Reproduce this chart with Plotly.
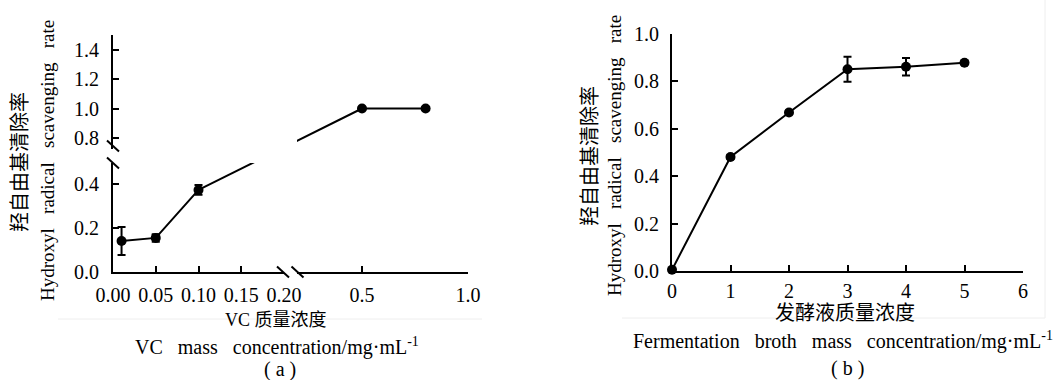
import plotly.graph_objects as go

W, H = 1053, 380

# ---------------- data: chart (a) VC ----------------
vc_x_low = [0.01, 0.05, 0.10]
vc_y_low = [0.141, 0.155, 0.373]
vc_err_low = [0.064, 0.017, 0.022]
vc_x_high = [0.5, 0.8]
vc_y_high = [1.0, 1.0]
vc_err_high = [0.006, 0.006]

vc_xticks_low = [0.0, 0.05, 0.10, 0.15, 0.20]
vc_xtext_low = ["0.00", "0.05", "0.10", "0.15", "0.20"]
vc_xticks_high = [0.5, 1.0]
vc_xtext_high = ["0.5", "1.0"]
vc_yticks_low = [0.0, 0.2, 0.4]
vc_ytext_low = ["0.0", "0.2", "0.4"]
vc_yticks_high = [0.8, 1.0, 1.2, 1.4]
vc_ytext_high = ["0.8", "1.0", "1.2", "1.4"]

# ---------------- data: chart (b) fermentation broth ----------------
fb_x = [0, 1, 2, 3, 4, 5]
fb_y = [0.005, 0.481, 0.669, 0.851, 0.862, 0.879]
fb_err = [0.0, 0.008, 0.008, 0.053, 0.037, 0.008]
fb_xticks = [0, 1, 2, 3, 4, 5, 6]
fb_yticks = [0.0, 0.2, 0.4, 0.6, 0.8, 1.0]
fb_ytext = ["0.0", "0.2", "0.4", "0.6", "0.8", "1.0"]

# ---------------- layout geometry (pixels) ----------------
LX0, LX1 = 113, 284          # lower-left x segment
RX0, RX1 = 297, 468          # right x segment
LY_B, LY_T = 272, 163        # lower y segment (bottom, top)
UY_B, UY_T = 149, 35         # upper y segment
rng_x_low = [0.0, 0.2]
rng_x_high = [1.0 - (RX1 - RX0) * 0.5 / 106.0, 1.0]
rng_y_low = [0.0, (LY_B - LY_T) * 0.2 / 44.0]
rng_y_high = [1.0 - (UY_B - 108.5) * 0.2 / 29.5, 1.0 + (108.5 - UY_T) * 0.2 / 29.5]
BX0, BX1 = 672, 1023
BY_B, BY_T = 271, 34


def dom_x(a, b):
    return [a / W, b / W]


def dom_y(top, bottom):
    return [1 - bottom / H, 1 - top / H]


def to_px(v, rng, p0, p1):
    return p0 + (v - rng[0]) / (rng[1] - rng[0]) * (p1 - p0)


def from_px(p, rng, p0, p1):
    return rng[0] + (p - p0) / (p1 - p0) * (rng[1] - rng[0])


SERIF = "Liberation Serif, Noto Sans CJK SC, serif"


def axis_common():
    return dict(
        showline=True, linecolor="black", linewidth=2,
        ticks="inside", ticklen=6, tickwidth=2, tickcolor="black",
        showgrid=False, zeroline=False, automargin=False, fixedrange=True,
        tickfont=dict(family="Liberation Serif", size=20, color="black"),
    )


fig = go.Figure()

line_style = dict(color="black", width=2)
marker_style = dict(color="black", size=10)
err_style = dict(color="black", thickness=2, width=4)

fig.add_trace(go.Scatter(
    x=vc_x_low, y=vc_y_low, mode="lines+markers",
    line=line_style, marker=marker_style,
    error_y=dict(type="data", array=vc_err_low, visible=True, **err_style),
    xaxis="x", yaxis="y", cliponaxis=False, showlegend=False))

# connecting line across the breaks, drawn in each segment and clipped there
end_px_x = to_px(vc_x_high[0], rng_x_high, RX0, RX1)
end_px_y = to_px(vc_y_high[0], rng_y_high, UY_B, UY_T)
start_px_x = to_px(vc_x_low[-1], rng_x_low, LX0, LX1)
start_px_y = to_px(vc_y_low[-1], rng_y_low, LY_B, LY_T)

fig.add_trace(go.Scatter(
    x=[vc_x_low[-1], from_px(end_px_x, rng_x_low, LX0, LX1)],
    y=[vc_y_low[-1], from_px(end_px_y, rng_y_low, LY_B, LY_T)],
    mode="lines", line=line_style, xaxis="x", yaxis="y",
    showlegend=False, hoverinfo="skip"))
fig.add_trace(go.Scatter(
    x=[from_px(start_px_x, rng_x_high, RX0, RX1), vc_x_high[0]],
    y=[from_px(start_px_y, rng_y_high, UY_B, UY_T), vc_y_high[0]],
    mode="lines", line=line_style, xaxis="x2", yaxis="y2",
    showlegend=False, hoverinfo="skip"))

fig.add_trace(go.Scatter(
    x=vc_x_high, y=vc_y_high, mode="lines+markers",
    line=line_style, marker=marker_style,
    error_y=dict(type="data", array=vc_err_high, visible=True, **err_style),
    xaxis="x2", yaxis="y2", cliponaxis=False, showlegend=False))

fig.add_trace(go.Scatter(
    x=fb_x, y=fb_y, mode="lines+markers",
    line=line_style, marker=marker_style,
    error_y=dict(type="data", array=fb_err, visible=True, **err_style),
    xaxis="x3", yaxis="y3", cliponaxis=False, showlegend=False))

fig.update_layout(
    width=W, height=H, autosize=False,
    margin=dict(l=0, r=0, t=0, b=0, pad=0, autoexpand=False),
    font=dict(family=SERIF, size=20, color="black"),
    paper_bgcolor="white", plot_bgcolor="rgba(0,0,0,0)",
    xaxis=dict(domain=dom_x(LX0, LX1), range=rng_x_low, anchor="y",
               tickvals=vc_xticks_low, ticktext=vc_xtext_low,
               ticklabelstandoff=4, **axis_common()),
    xaxis2=dict(domain=dom_x(RX0, RX1), range=rng_x_high, anchor="y",
                tickvals=vc_xticks_high, ticktext=vc_xtext_high,
                ticklabelstandoff=4, **axis_common()),
    yaxis=dict(domain=dom_y(LY_T, LY_B), range=rng_y_low, anchor="x",
               tickvals=vc_yticks_low, ticktext=vc_ytext_low,
               ticklabelstandoff=8, **axis_common()),
    yaxis2=dict(domain=dom_y(UY_T, UY_B), range=rng_y_high, anchor="x",
                tickvals=vc_yticks_high, ticktext=vc_ytext_high,
                ticklabelstandoff=8, **axis_common()),
    xaxis3=dict(domain=dom_x(BX0, BX1), range=[0, 6], anchor="y3",
                tickvals=fb_xticks, ticklabelstandoff=1, **axis_common()),
    yaxis3=dict(domain=dom_y(BY_T, BY_B), range=[0, 1], anchor="x3",
                tickvals=fb_yticks, ticktext=fb_ytext,
                ticklabelstandoff=7, **axis_common()),
)


def brk(cx, cy, dx=6, dy=5.5):
    return dict(type="line", xref="paper", yref="paper",
                x0=(cx - dx) / W, x1=(cx + dx) / W,
                y0=1 - (cy - dy) / H, y1=1 - (cy + dy) / H,
                line=dict(color="black", width=2))


shapes = [
    brk(LX0, UY_B - 3), brk(LX0, LY_T),
    brk(LX1 - 1, LY_B), brk(RX0 + 0.5, LY_B),
    dict(type="line", xref="paper", yref="paper", x0=58 / W, x1=482 / W,
         y0=1 - 319 / H, y1=1 - 319 / H, line=dict(color="#eeeeee", width=1)),
    dict(type="line", xref="paper", yref="paper", x0=622 / W, x1=1045 / W,
         y0=1 - 318 / H, y1=1 - 318 / H, line=dict(color="#eeeeee", width=1)),
    dict(type="line", xref="paper", yref="paper", x0=1045 / W, x1=1045 / W,
         y0=1 - 318 / H, y1=1, line=dict(color="#eeeeee", width=1)),
]
fig.update_layout(shapes=shapes)

NB = "\u00a0"
GAP = NB * 3
en_y = f"Hydroxyl{GAP}radical{GAP}scavenging{GAP}rate"


def ann(text, px, py, size=20, angle=0):
    return dict(text=text, x=px / W, y=1 - py / H, xref="paper", yref="paper",
                xanchor="center", yanchor="middle", showarrow=False,
                textangle=angle, font=dict(family=SERIF, size=size, color="black"))


annotations = [
    ann("羟自由基清除率", 20, 162, size=20, angle=-90),
    ann(en_y, 47, 161, size=19, angle=-90),
    ann("VC 质量浓度", 276, 320, size=18),
    ann(f"VC{GAP}mass{GAP}concentration/mg·mL<sup>-1</sup>", 277, 346, size=20),
    ann(f"({NB}a{NB})", 280, 369, size=20),
    ann("羟自由基清除率", 590, 156, size=20, angle=-90),
    ann(en_y, 615, 156, size=19, angle=-90),
    ann("发酵液质量浓度", 845, 313, size=20),
    ann(f"Fermentation{GAP}broth{GAP}mass{GAP}concentration/mg·mL<sup>-1</sup>", 843, 340, size=20),
    ann(f"({NB}b{NB})", 847, 368, size=20),
]
fig.update_layout(annotations=annotations)

fig.write_html("out.html")
